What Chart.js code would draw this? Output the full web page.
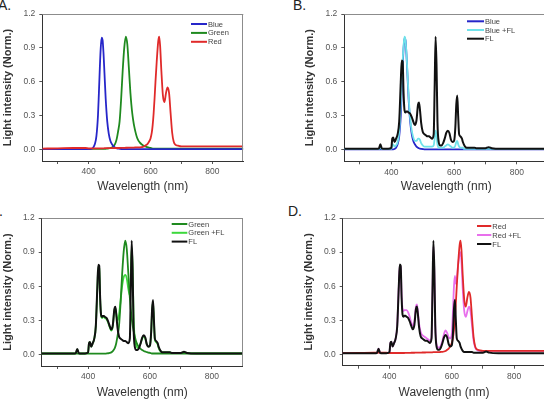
<!DOCTYPE html>
<html><head><meta charset="utf-8">
<script src="https://cdn.jsdelivr.net/npm/chart.js@4.4.1/dist/chart.umd.min.js"></script>
<style>
html,body{margin:0;padding:0;background:#fff;overflow:hidden;width:544px;height:405px;}
body{position:relative;}
canvas{position:absolute;}
.lbl{position:absolute;font:14px "Liberation Sans",Arial,sans-serif;line-height:14px;color:#222;white-space:nowrap;}
</style></head><body>
<div class="lbl" style="left:-2px;top:-2px">A.</div>
<div class="lbl" style="left:293px;top:-2.5px">B.</div>
<div class="lbl" style="left:-11px;top:204px">C.</div>
<div class="lbl" style="left:288px;top:203.5px">D.</div>
<canvas id="cA" width="272" height="200" style="left:0;top:0"></canvas>
<canvas id="cB" width="280" height="200" style="left:272px;top:0"></canvas>
<canvas id="cC" width="272" height="205" style="left:0;top:200px"></canvas>
<canvas id="cD" width="280" height="205" style="left:272px;top:200px"></canvas>
<script>
// ---------- data ----------
const wavelength = [
  250,300,350,360,365,370,380,390,
  400,403,406,410,415,420,425,430,433,436,
  439,442,445,448,451,455,460,465,470,475,
  480,485,488,491,495,500,505,510,515,520,
  525,530,535,538,541,544,547,551,556,560,
  565,570,575,580,585,590,595,600,604,607,
  610,613,616,620,625,628,631,635,640,645,
  650,655,660,665,670,675,680,690,700,710,
  720,750,800,850,900];

const blueLED = [
  0.005,0.005,0.005,0.005,0.005,0.005,0.005,0.005,
  0.005,0.005,0.005,0.008,0.02,0.05,0.12,0.30,0.50,0.72,
  0.90,0.99,0.97,0.85,0.68,0.45,0.25,0.14,0.08,0.05,
  0.03,0.02,0.015,0.012,0.01,0.008,0.006,0.005,0.005,0.005,
  0.005,0.005,0.005,0.005,0.005,0.005,0.005,0.005,0.005,0.005,
  0.005,0.005,0.005,0.005,0.005,0.005,0.005,0.005,0.005,0.005,
  0.005,0.005,0.005,0.005,0.005,0.005,0.005,0.005,0.005,0.005,
  0.005,0.005,0.005,0.005,0.005,0.005,0.005,0.005,0.005,0.005,
  0.005,0.005,0.005,0.005,0.005];

const greenLED = [
  0.008,0.008,0.008,0.008,0.008,0.008,0.008,0.008,
  0.008,0.008,0.008,0.008,0.008,0.008,0.008,0.008,0.008,0.008,
  0.008,0.008,0.008,0.008,0.008,0.008,0.01,0.012,0.015,0.02,
  0.03,0.05,0.07,0.10,0.16,0.25,0.45,0.70,0.90,1.00,
  0.93,0.72,0.50,0.40,0.32,0.26,0.21,0.16,0.11,0.085,
  0.065,0.05,0.04,0.032,0.027,0.022,0.018,0.015,0.012,0.01,
  0.01,0.01,0.01,0.01,0.01,0.01,0.01,0.01,0.01,0.01,
  0.01,0.01,0.01,0.01,0.01,0.01,0.01,0.01,0.01,0.01,
  0.01,0.01,0.01,0.01,0.01];

const redLED = [
  0.01,0.012,0.015,0.015,0.015,0.015,0.015,0.015,
  0.012,0.012,0.012,0.012,0.012,0.012,0.012,0.012,0.012,0.012,
  0.012,0.012,0.012,0.012,0.013,0.013,0.013,0.013,0.014,0.014,
  0.014,0.015,0.015,0.015,0.015,0.015,0.016,0.016,0.016,0.017,
  0.017,0.018,0.018,0.018,0.019,0.019,0.019,0.02,0.02,0.02,
  0.021,0.022,0.025,0.03,0.04,0.05,0.07,0.10,0.15,0.22,
  0.32,0.45,0.60,0.78,0.96,1.00,0.92,0.70,0.48,0.42,
  0.50,0.55,0.50,0.32,0.15,0.07,0.045,0.035,0.03,0.03,
  0.03,0.03,0.03,0.03,0.03];

const fluorescent = [
  0.01,0.01,0.01,0.012,0.05,0.012,0.01,0.01,
  0.02,0.10,0.11,0.07,0.10,0.14,0.25,0.60,0.79,0.78,
  0.50,0.35,0.33,0.34,0.34,0.33,0.32,0.29,0.25,0.22,
  0.26,0.40,0.42,0.36,0.24,0.16,0.14,0.13,0.12,0.12,
  0.11,0.10,0.14,0.55,1.00,0.75,0.25,0.07,0.04,0.04,
  0.06,0.10,0.15,0.17,0.15,0.09,0.07,0.08,0.20,0.40,
  0.48,0.30,0.14,0.12,0.10,0.07,0.05,0.03,0.02,0.02,
  0.02,0.02,0.02,0.02,0.015,0.015,0.015,0.015,0.015,0.025,
  0.015,0.01,0.01,0.01,0.01];

const blueFL = [
  0.01,0.01,0.01,0.01,0.02,0.01,0.01,0.01,
  0.01,0.04,0.05,0.03,0.04,0.07,0.16,0.40,0.60,0.78,
  0.92,1.00,0.97,0.86,0.70,0.48,0.28,0.17,0.11,0.08,
  0.08,0.10,0.10,0.09,0.06,0.04,0.03,0.03,0.03,0.03,
  0.03,0.03,0.04,0.10,0.17,0.13,0.05,0.02,0.02,0.02,
  0.02,0.03,0.04,0.05,0.04,0.03,0.02,0.02,0.04,0.07,
  0.08,0.05,0.03,0.02,0.02,0.02,0.01,0.01,0.01,0.01,
  0.01,0.01,0.01,0.01,0.01,0.01,0.01,0.01,0.01,0.01,
  0.01,0.01,0.01,0.01,0.01];

const greenFL = [
  0.01,0.01,0.01,0.012,0.045,0.012,0.01,0.01,
  0.02,0.10,0.11,0.07,0.10,0.14,0.25,0.58,0.77,0.76,
  0.49,0.34,0.32,0.33,0.33,0.32,0.31,0.28,0.24,0.21,
  0.25,0.39,0.41,0.36,0.30,0.35,0.47,0.60,0.68,0.70,
  0.67,0.58,0.52,0.68,0.94,0.78,0.35,0.14,0.08,0.06,
  0.07,0.10,0.14,0.16,0.14,0.09,0.07,0.08,0.19,0.38,
  0.46,0.29,0.13,0.11,0.09,0.06,0.04,0.03,0.02,0.02,
  0.02,0.02,0.02,0.02,0.015,0.015,0.015,0.015,0.015,0.02,
  0.015,0.01,0.01,0.01,0.01];

const redFL = [
  0.01,0.01,0.01,0.012,0.05,0.012,0.01,0.01,
  0.02,0.10,0.11,0.07,0.10,0.14,0.26,0.60,0.78,0.77,
  0.52,0.40,0.38,0.39,0.39,0.39,0.37,0.33,0.28,0.25,
  0.29,0.42,0.44,0.38,0.27,0.20,0.17,0.16,0.15,0.14,
  0.13,0.12,0.15,0.52,0.95,0.72,0.26,0.09,0.06,0.06,
  0.08,0.12,0.18,0.21,0.19,0.15,0.14,0.18,0.40,0.60,
  0.69,0.62,0.66,0.78,0.88,0.90,0.82,0.58,0.38,0.33,
  0.38,0.42,0.38,0.25,0.12,0.06,0.04,0.03,0.03,0.03,
  0.03,0.03,0.03,0.03,0.03];

const xTickValues = [300, 400, 500, 600, 700, 800];
const xTickLabels = [400, 600, 800];
const yTickValues = [0, 0.3, 0.6, 0.9, 1.2];

// ---------- drawing ----------
const FONT = '"Liberation Sans", Arial, sans-serif';
const pts = arr => wavelength.map((w, i) => ({x: w, y: arr[i]}));

const framePlugin = {
  id: 'frame',
  afterDraw(chart, args, o) {
    const {ctx, chartArea: a} = chart;
    ctx.save();
    ctx.strokeStyle = '#8c8c8c';
    ctx.lineWidth = 1;
    ctx.beginPath();
    ctx.moveTo(a.left, Math.round(a.top) + 0.5);
    ctx.lineTo(a.right, Math.round(a.top) + 0.5);
    ctx.moveTo(Math.round(a.right) - 0.5, a.top);
    ctx.lineTo(Math.round(a.right) - 0.5, a.bottom);
    ctx.stroke();
    chart.data.datasets.forEach((ds, i) => {
      const y = o.y + i * o.dy;
      ctx.strokeStyle = ds.borderColor;
      ctx.lineWidth = 2;
      ctx.beginPath();
      ctx.moveTo(o.x, y);
      ctx.lineTo(o.x + o.len, y);
      ctx.stroke();
      ctx.fillStyle = '#444';
      ctx.font = '7.5px ' + FONT;
      ctx.textBaseline = 'middle';
      ctx.textAlign = 'left';
      ctx.fillText(ds.label, o.x + o.len + 1, y + 0.5);
    });
    ctx.restore();
  }
};

function makeChart(id, g, sets) {
  const datasets = sets.map(s => ({
    label: s.label, data: pts(s.values), borderColor: s.color,
    borderWidth: s.w || 1.8, pointRadius: 0, fill: false,
    cubicInterpolationMode: 'monotone', order: s.order
  }));
  return new Chart(document.getElementById(id), {
    type: 'line',
    data: {datasets},
    plugins: [framePlugin],
    options: {
      responsive: false, animation: false, devicePixelRatio: 1,
      layout: {padding: {left: 0, top: g.top, right: g.w - g.right, bottom: 0}},
      plugins: {
        legend: {display: false}, tooltip: {enabled: false},
        frame: g.legend
      },
      scales: {
        x: {
          type: 'linear', min: 250, max: 900,
          afterBuildTicks: s => { s.ticks = xTickValues.map(v => ({value: v})); },
          afterFit: s => { s.height = g.h - g.bottom; },
          ticks: {autoSkip: false, maxRotation: 0, padding: 3, color: '#555',
                  font: {family: FONT, size: 8.5},
                  callback: v => xTickLabels.includes(v) ? String(v) : ''},
          grid: {drawOnChartArea: false, drawTicks: true, tickLength: 3, color: '#555'},
          border: {display: true, color: '#333', width: 1},
          title: {display: true, text: 'Wavelength (nm)', color: '#333',
                  font: {family: FONT, size: 12}, padding: {top: 0, bottom: g.xtp}}
        },
        y: {
          type: 'linear', min: -0.1, max: 1.2,
          afterBuildTicks: s => { s.ticks = yTickValues.map(v => ({value: v})); },
          afterFit: s => { s.width = g.left; },
          ticks: {padding: 4, color: '#555', font: {family: FONT, size: 8.5},
                  callback: v => v.toFixed(1)},
          grid: {drawOnChartArea: false, drawTicks: true, tickLength: 3, color: '#555'},
          border: {display: true, color: '#333', width: 1},
          title: {display: true, text: 'Light intensity (Norm.)', color: '#333',
                  font: {family: FONT, size: 11, weight: 'bold'}, padding: {top: g.ytp, bottom: 0}}
        }
      }
    }
  });
}

makeChart('cA', {w: 272, h: 200, left: 42.3, top: 14, right: 243.3, bottom: 161, ytp: 1.4, xtp: 5.8,
  legend: {x: 191, y: 24, dy: 8.9, len: 16}}, [
  {label: 'Blue', values: blueLED, color: '#2626c9', order: 1},
  {label: 'Green', values: greenLED, color: '#1f8a1f', order: 2},
  {label: 'Red', values: redLED, color: '#e02a2a', order: 0}
]);

makeChart('cB', {w: 280, h: 200, left: 72.3, top: 14, right: 276.2, bottom: 161.3, ytp: 31.1, xtp: 6.1,
  legend: {x: 195, y: 21.3, dy: 8.7, len: 17}}, [
  {label: 'Blue', values: blueLED, color: '#2626c9', order: 2},
  {label: 'Blue +FL', values: blueFL, color: '#6fe2ea', order: 1},
  {label: 'FL', values: fluorescent, color: '#111111', order: 0, w: 2}
]);

makeChart('cC', {w: 272, h: 205, left: 41.7, top: 18, right: 242.7, bottom: 166, ytp: 1.7, xtp: 5.5,
  legend: {x: 171.7, y: 24, dy: 8.8, len: 15.6}}, [
  {label: 'Green', values: greenLED, color: '#1f8a1f', order: 1},
  {label: 'Green +FL', values: greenFL, color: '#3cd83c', order: 2},
  {label: 'FL', values: fluorescent, color: '#111111', order: 0, w: 2}
]);

makeChart('cD', {w: 280, h: 205, left: 70.7, top: 18, right: 273.3, bottom: 165.7, ytp: 30.1, xtp: 5.5,
  legend: {x: 205, y: 26, dy: 9, len: 14.3}}, [
  {label: 'Red', values: redLED, color: '#e02a2a', order: 1},
  {label: 'Red +FL', values: redFL, color: '#e870ec', order: 2},
  {label: 'FL', values: fluorescent, color: '#111111', order: 0, w: 2}
]);
</script>
</body></html>
